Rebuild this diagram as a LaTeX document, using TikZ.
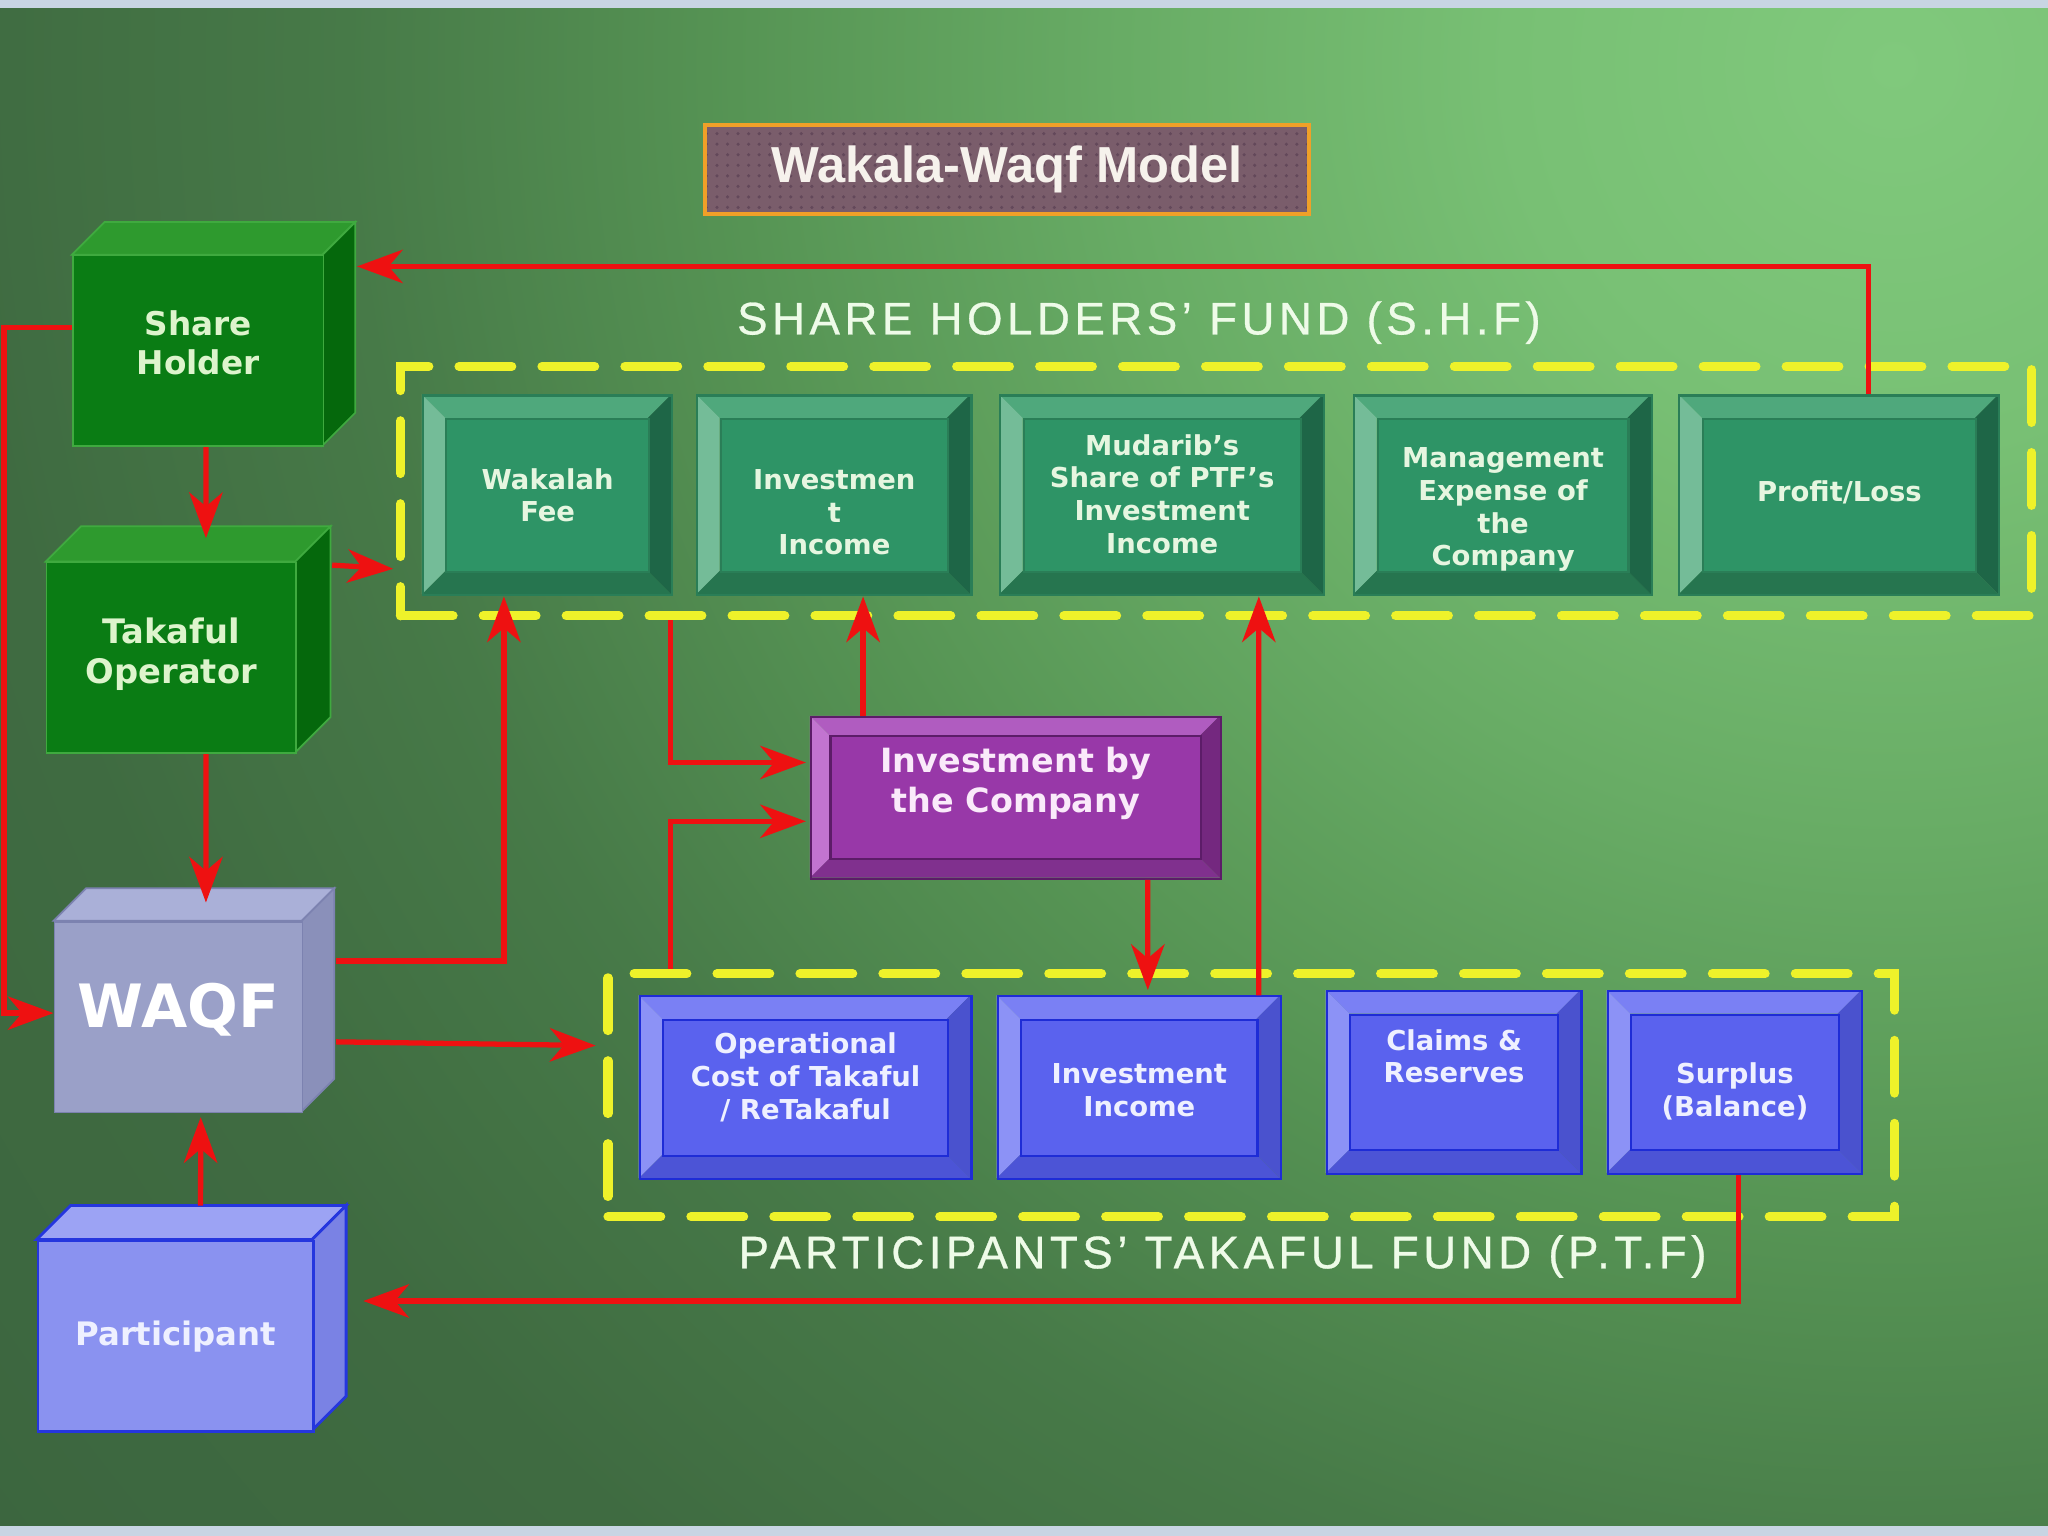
\documentclass[tikz,border=0pt]{standalone}
\usepackage{fontspec}
\setmainfont{Liberation Sans}
\newfontfamily\boxfont{DejaVu Sans}
\newfontfamily\labfont[LetterSpace=9.8,FakeBold=0.6]{Liberation Sans}
\usetikzlibrary{calc,arrows.meta,patterns}
\newlength{\dpx}\setlength{\dpx}{0.013061cm}
% background
\definecolor{bg0}{HTML}{80C97C}
\definecolor{bg1}{HTML}{78C074}
\definecolor{bg2}{HTML}{68AC65}
\definecolor{bg3}{HTML}{569454}
\definecolor{bg4}{HTML}{477A48}
\definecolor{bg5}{HTML}{3F6B41}
\definecolor{bg6}{HTML}{3C663F}
\definecolor{strip}{HTML}{C8D5E3}
% title
\definecolor{tOr}{HTML}{F0A028}
\definecolor{tFill}{HTML}{7A5D6B}
\definecolor{tDot}{HTML}{63485A}
\definecolor{tTxt}{HTML}{F6F2EC}
% green bevel
\definecolor{gF}{HTML}{2E9466}
\definecolor{gT}{HTML}{4FA87C}
\definecolor{gL}{HTML}{74BC98}
\definecolor{gR}{HTML}{1E6647}
\definecolor{gB}{HTML}{26754F}
\definecolor{gE}{HTML}{2A7E57}
\definecolor{gX}{HTML}{E6F6E0}
% blue bevel
\definecolor{bF}{HTML}{5A62EE}
\definecolor{bT}{HTML}{7A80F4}
\definecolor{bL}{HTML}{8C92F6}
\definecolor{bR}{HTML}{4A52CE}
\definecolor{bB}{HTML}{4C54D6}
\definecolor{bE}{HTML}{1E2CD6}
\definecolor{bX}{HTML}{EEF0FF}
% purple bevel
\definecolor{pF}{HTML}{9838A8}
\definecolor{pT}{HTML}{B05CC0}
\definecolor{pL}{HTML}{C274D0}
\definecolor{pR}{HTML}{74287F}
\definecolor{pB}{HTML}{80308E}
\definecolor{pE}{HTML}{5C1C68}
\definecolor{pX}{HTML}{FAEAFA}
% cubes
\definecolor{cgF}{HTML}{0A7C14}
\definecolor{cgT}{HTML}{2E9A2E}
\definecolor{cgR}{HTML}{05680C}
\definecolor{cgE}{HTML}{3FAA3F}
\definecolor{cwF}{HTML}{9AA0C8}
\definecolor{cwT}{HTML}{AAB0D8}
\definecolor{cwR}{HTML}{8A90BA}
\definecolor{cwE}{HTML}{7C82B0}
\definecolor{cpF}{HTML}{8A92F0}
\definecolor{cpT}{HTML}{9CA3F4}
\definecolor{cpR}{HTML}{7A82E4}
\definecolor{cpE}{HTML}{2536DE}
\definecolor{shX}{HTML}{DDF4CC}
\definecolor{ared}{HTML}{EE1111}
\definecolor{dyel}{HTML}{EEF22A}
\definecolor{labc}{HTML}{EEFBE8}
\pgfdeclareradialshading{bgshade}{\pgfpoint{0bp}{0bp}}{color(0bp)=(bg0); color(4bp)=(bg1); color(8bp)=(bg2); color(12bp)=(bg3); color(16bp)=(bg4); color(20bp)=(bg5); color(25bp)=(bg6); color(50bp)=(bg6)}
\tikzset{
  boxtxt/.style={align=center, inner sep=0, font=\boxfont\bfseries\fontsize{7.8}{9.3}\selectfont},
  gtxt/.style={boxtxt, text=gX},
  btxt/.style={boxtxt, text=bX},
  ptxt/.style={boxtxt, text=pX, font=\boxfont\bfseries\fontsize{9.5}{11.2}\selectfont},
  cgedge/.style={draw=cgE, line width=0.5pt},
  cwedge/.style={draw=cwE, line width=0.5pt},
  cpedge/.style={draw=cpE, line width=0.8pt},
  cubetxt/.style={align=center, inner sep=0},
  dashbox/.style={draw=dyel, line width=2.6pt, line cap=round, dash pattern=on 15pt off 8.6pt, inner sep=0},
  fundlab/.style={inner sep=0, text=labc, font=\labfont\fontsize{13}{15}\selectfont},
  titlebox/.style={draw=tOr, line width=1.2pt, preaction={fill=tFill}, pattern=dots, pattern color=tDot,
     minimum width={462*\dpx}, minimum height={68*\dpx}, inner sep=0, text=tTxt,
     font=\bfseries\fontsize{14.4}{17}\selectfont},
  arr/.style={draw=ared, line width=1.5pt, -{Stealth[length=13pt,width=9.5pt,inset=4pt]}}
}
% #1 name, #2 x1, #3 y1, #4 x2, #5 y2, #6 bevel, #7 colour prefix, #8 text, #9 text dy
\newcommand\bevbox[9]{%
  \fill[#7T] (#2,#3) -- (#4,#3) -- (#4-#6,#3+#6) -- (#2+#6,#3+#6) -- cycle;
  \fill[#7B] (#2,#5) -- (#4,#5) -- (#4-#6,#5-#6) -- (#2+#6,#5-#6) -- cycle;
  \fill[#7L] (#2,#3) -- (#2+#6,#3+#6) -- (#2+#6,#5-#6) -- (#2,#5) -- cycle;
  \fill[#7R] (#4,#3) -- (#4-#6,#3+#6) -- (#4-#6,#5-#6) -- (#4,#5) -- cycle;
  \node[fill=#7F, draw=#7E, line width=0.6pt, inner sep=0, anchor=north west,
        minimum width={(#4-#2-2*#6)*\dpx}, minimum height={(#5-#3-2*#6)*\dpx}] (#1in) at (#2+#6,#3+#6) {};
  \node[draw=#7E, line width=0.6pt, inner sep=0, anchor=north west,
        minimum width={(#4-#2)*\dpx}, minimum height={(#5-#3)*\dpx}] (#1) at (#2,#3) {};
  \node[#7txt] (#1t) at ($(#1.center)+(0,#9)$) {#8};
}
% #1 name, #2 x1, #3 y1, #4 x2, #5 y2, #6 depth, #7 colour prefix
\newcommand\cube[7]{%
  \path[fill=#7T, #7edge] (#2,#3) -- (#2+#6,#3-#6) -- (#4+#6,#3-#6) -- (#4,#3) -- cycle;
  \path[fill=#7R, #7edge] (#4,#3) -- (#4+#6,#3-#6) -- (#4+#6,#5-#6) -- (#4,#5) -- cycle;
  \node[fill=#7F, #7edge, inner sep=0, anchor=north west,
        minimum width={(#4-#2)*\dpx}, minimum height={(#5-#3)*\dpx}] (#1) at (#2,#3) {};
}
\begin{document}
\begin{tikzpicture}[x=0.013061cm, y=-0.013061cm]
\useasboundingbox (0,0) rectangle (1568,1176);
% background
\fill[bg6] (0,0) rectangle (1568,1176);
\begin{scope}
  \clip (0,0) rectangle (1568,1176);
  \shade[shading=bgshade] (1450,50) circle (1850);
\end{scope}
\fill[strip] (0,0) rectangle (1568,6);
\fill[strip] (0,1168) rectangle (1568,1176);

% title
\node[titlebox] (title) at (771,130) {Wakala-Waqf Model};

% fund frames and labels
\node[dashbox, anchor=north west, minimum width={1249*\dpx}, minimum height={191*\dpx}] (shf) at (303,277) {};
\node[dashbox, anchor=north west, minimum width={985*\dpx}, minimum height={186*\dpx}] (ptf) at (462,742) {};
\node[fundlab] (shfl) at (872,247) {SHARE HOLDERS’ FUND (S.H.F)};
\node[fundlab] (ptfl) at (936,962) {PARTICIPANTS’ TAKAFUL FUND (P.T.F)};

% share holders' fund boxes
\bevbox{wf}{323}{302}{514}{455}{18}{g}{Wakalah\\Fee}{0}
\bevbox{ii}{533}{302}{743}{455}{18}{g}{Investmen\\t\\Income}{13}
\bevbox{md}{765}{302}{1013}{455}{18}{g}{Mudarib’s\\Share of PTF’s\\Investment\\Income}{-1}
\bevbox{me}{1036}{302}{1264}{455}{18}{g}{Management\\Expense of\\the\\Company}{11}
\bevbox{pl}{1285}{302}{1530}{455}{18}{g}{Profit/Loss}{-2}

% participants' takaful fund boxes
\bevbox{oc}{489}{762}{743}{902}{18}{b}{Operational\\Cost of Takaful\\/ ReTakaful}{-8}
\bevbox{pi}{763}{762}{980}{902}{18}{b}{Investment\\Income}{2}
\bevbox{cr}{1015}{758}{1210}{898}{18}{b}{Claims \&\\Reserves}{-20}
\bevbox{su}{1230}{758}{1425}{898}{18}{b}{Surplus\\(Balance)}{7}

% investment by the company
\bevbox{ic}{620}{548}{934}{672}{15}{p}{Investment by\\the Company}{-11}

% cubes
\cube{sh}{55}{195}{247}{341}{25}{cg}
\node[cubetxt, text=shX, font=\boxfont\bfseries\fontsize{9.3}{11.1}\selectfont] (sht) at ($(sh.center)+(0,-6)$) {Share\\Holder};
\cube{to}{35}{430}{226}{576}{27}{cg}
\node[cubetxt, text=shX, font=\boxfont\bfseries\fontsize{9.6}{11.5}\selectfont] (tot) at ($(to.center)+(0,-3)$) {Takaful\\Operator};
\cube{wq}{41}{705}{231}{851}{25}{cw}
\node[cubetxt, text=white, font=\boxfont\bfseries\fontsize{17}{20}\selectfont] (wqt) at ($(wq.center)+(0,-6)$) {WAQF};
\cube{pa}{28}{949}{239}{1095}{26}{cp}
\node[cubetxt, text=bX, font=\boxfont\bfseries\fontsize{9.2}{11}\selectfont] (pat) at (pa.center) {Participant};

% connectors
\draw[arr] ($(pl.north)+(22.5,0)$) |- ($(sh.north east)+(25,9)$);
\draw[arr] ($(sh.west)+(0,-18)$) -- ++(-52,0) |- ($(wq.west)+(0,-3)$);
\draw[arr] ($(sh.south)+(6,0)$) -- ($(to.north)+(26.5,-18)$);
\draw[arr] ($(to.east)+(27,-71)$) -- ($(shf.west)+(-2,59.5)$);
\draw[arr] ($(to.south)+(26.5,0)$) -- ($(wq.north)+(21,-14)$);
\draw[arr] ($(wq.east)+(25,-43)$) -| ($(wf.south)+(-33.5,0)$);
\draw[arr] ($(wq.east)+(25,19)$) -- ($(ptf.west)+(-6,-38)$);
\draw[arr] ($(pa.north)+(19,-26)$) -- ($(wq.south)+(17,3)$);
\draw[arr] ($(su.south)+(2.5,0)$) |- ($(pa.east)+(37,-27)$);
\draw[arr] ($(shf.south)+(-417.5,0)$) |- ($(ic.west)+(-3,-27)$);
\draw[arr] ($(ptf.north)+(-444.5,0)$) |- ($(ic.west)+(-3,18)$);
\draw[arr] ($(ic.north)+(-117,0)$) -- ($(ii.south)+(22,0)$);
\draw[arr] ($(ic.south)+(101,0)$) -- ($(pi.north)+(6.5,-4)$);
\draw[arr] ($(pi.north)+(91.5,0)$) -- ($(md.south)+(74,0)$);
\end{tikzpicture}
\end{document}
